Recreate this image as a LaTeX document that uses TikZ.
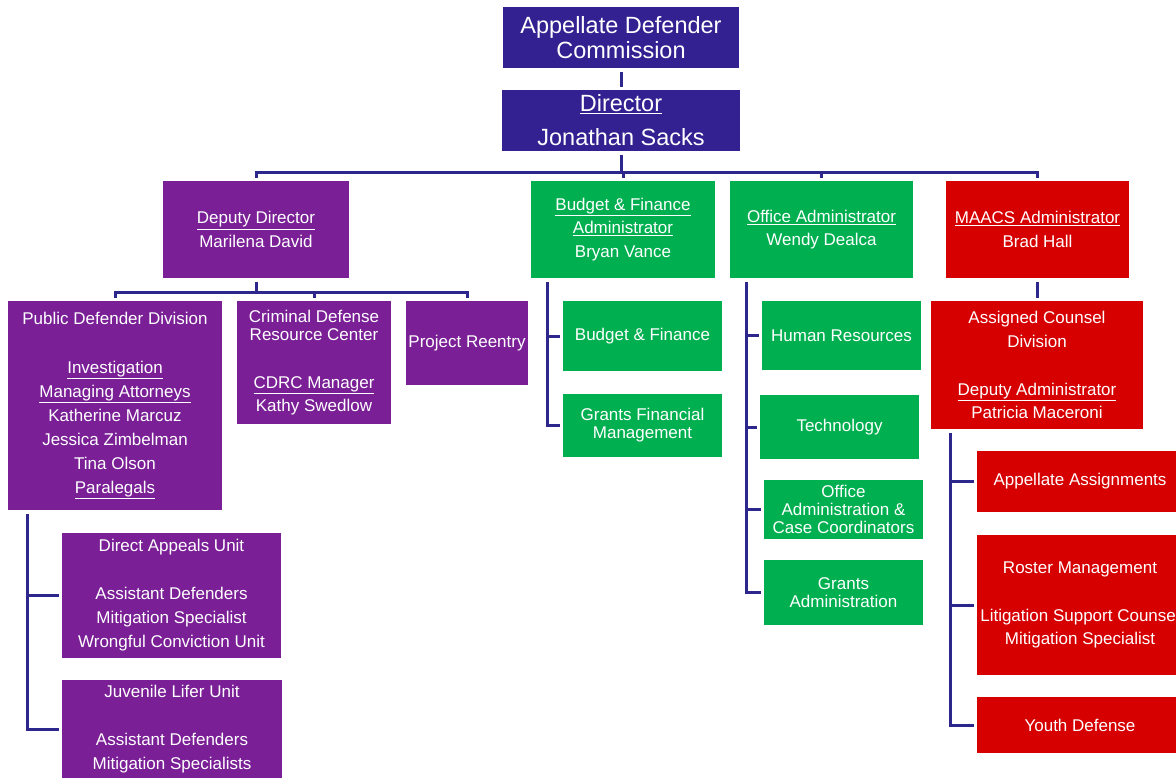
\documentclass[tikz,border=0pt]{standalone}
\usepackage{fontspec}
\setmainfont{Liberation Sans}
\definecolor{navyfill}{RGB}{51,32,145}
\definecolor{purplefill}{RGB}{122,31,150}
\definecolor{greenfill}{RGB}{0,176,80}
\definecolor{redfill}{RGB}{214,0,0}
\definecolor{connline}{RGB}{45,38,140}
\usetikzlibrary{calc}

\begin{document}
\begin{tikzpicture}[x=1pt,y=-1pt,
    box/.style={inner sep=0pt, align=center, text=white, font=\fontsize{17}{23.5}\selectfont},
    nbox/.style={box, fill=navyfill, font=\fontsize{23.5}{25}\selectfont},
    pbox/.style={box, fill=purplefill},
    gbox/.style={box, fill=greenfill},
    rbox/.style={box, fill=redfill},
    tight/.style={font=\fontsize{17}{18}\selectfont},
    conn/.style={draw=connline, line width=3pt, shorten <=4pt, shorten >=3pt}]
            \clip (0,0) rectangle (1176,778);
            \node[nbox, minimum width=236pt, minimum height=61pt] (adc) at (621,37.5) {Appellate Defender\\Commission};
            \node[nbox, minimum width=238pt, minimum height=61pt, font=\fontsize{23.5}{34}\selectfont] (dir) at (621,120.5) {\underline{Director}\\Jonathan Sacks};
            \node[pbox, minimum width=186pt, minimum height=97pt] (dep) at (256,229.5) {\underline{Deputy Director}\\Marilena David};
            \node[gbox, minimum width=184pt, minimum height=97pt] (bfa) at (623,229.5) {\underline{Budget \& Finance}\\\underline{Administrator}\\Bryan Vance};
            \node[gbox, minimum width=183pt, minimum height=97pt] (oa) at (821.5,229.5) {\underline{Office Administrator}\\Wendy Dealca};
            \node[rbox, minimum width=183pt, minimum height=97pt] (maacs) at (1037.5,229.5) {\underline{MAACS Administrator}\\Brad Hall};
            \node[pbox, minimum width=214pt, minimum height=209pt, font=\fontsize{17}{24}\selectfont] (pdd) at (115,405.5) {Public Defender Division\\[25pt]\underline{Investigation}\\\underline{Managing Attorneys}\\Katherine Marcuz\\Jessica Zimbelman\\Tina Olson\\\underline{Paralegals}};
            \node[pbox, minimum width=154pt, minimum height=123pt] (cdrc) at (314,362.5) {Criminal Defense\\[-5.5pt]Resource Center\\[24.5pt]\underline{CDRC Manager}\\Kathy Swedlow};
            \node[pbox, minimum width=122pt, minimum height=84pt] (reentry) at (467,343) {Project Reentry};
            \node[pbox, minimum width=219pt, minimum height=125pt, font=\fontsize{17}{24}\selectfont] (dau) at (171.5,595.5) {Direct Appeals Unit\\[24pt]Assistant Defenders\\Mitigation Specialist\\Wrongful Conviction Unit};
            \node[pbox, minimum width=220pt, minimum height=98pt, font=\fontsize{17}{24}\selectfont] (jlu) at (172,729) {Juvenile Lifer Unit\\[24pt]Assistant Defenders\\Mitigation Specialists};
            \node[gbox, minimum width=159pt, minimum height=70pt] (bf) at (642.5,336) {Budget \& Finance};
            \node[gbox, tight, minimum width=159pt, minimum height=63pt] (gfm) at (642.5,425.5) {Grants Financial\\Management};
            \node[gbox, minimum width=159pt, minimum height=69pt] (hr) at (841.5,335.5) {Human Resources};
            \node[gbox, minimum width=159pt, minimum height=64pt] (tech) at (839.5,427) {Technology};
            \node[gbox, tight, minimum width=159pt, minimum height=59pt] (oacc) at (843.5,509.5) {Office\\Administration \&\\Case Coordinators};
            \node[gbox, tight, minimum width=159pt, minimum height=65pt] (ga) at (843.5,592.5) {Grants\\Administration};
            \node[rbox, minimum width=212pt, minimum height=128pt] (acd) at (1037,365) {Assigned Counsel\\Division\\[24.5pt]\underline{Deputy Administrator}\\Patricia Maceroni};
            \node[rbox, minimum width=206pt, minimum height=61pt] (aa) at (1080,481.5) {Appellate Assignments};
            \node[rbox, minimum width=206pt, minimum height=140pt] (rm) at (1080,605) {Roster Management\\[24.5pt]Litigation Support Counsel\\Mitigation Specialist};
            \node[rbox, minimum width=206pt, minimum height=56pt] (yd) at (1080,725) {Youth Defense};
            \draw[conn] (adc) -- (dir);
            \foreach \n in {dep,bfa,oa,maacs}
                \draw[conn] (dir.south) -- ++(0,21) -| (\n.north);
            \foreach \n in {pdd,cdrc,reentry}
                \draw[conn] (dep.south) -- ++(0,14) -| (\n.north);
            \draw[conn] (maacs.south) -- (maacs.south |- acd.north);
            \foreach \n in {dau,jlu}
                \draw[conn] ([xshift=20pt]pdd.south west) |- (\n.west);
            \foreach \n in {bf,gfm}
                \draw[conn] ([xshift=17pt]bfa.south west) |- (\n.west);
            \foreach \n in {hr,tech,oacc,ga}
                \draw[conn] ([xshift=17pt]oa.south west) |- (\n.west);
            \foreach \n in {aa,rm,yd}
                \draw[conn] ([xshift=20pt]acd.south west) |- (\n.west);
        \end{tikzpicture}
\end{document}
